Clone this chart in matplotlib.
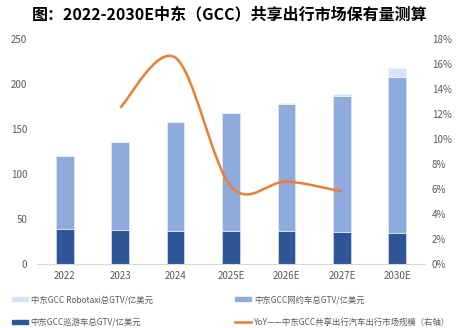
import numpy as np
import matplotlib.pyplot as plt
from matplotlib.path import Path
from matplotlib.patches import PathPatch, Patch
from matplotlib.lines import Line2D

plt.rcParams['font.family'] = ['Noto Sans CJK SC', 'DejaVu Sans']

# ---------------- data ----------------
years = ['2022', '2023', '2024', '2025E', '2026E', '2027E', '2030E']
cruise_gtv = [39, 37.5, 37, 36.7, 36.3, 35.2, 34.1]          # 巡游车
ridehail_gtv = [81.5, 98, 121, 130.8, 142, 151.8, 173.3]     # 网约车
robotaxi_gtv = [0, 0, 0, 0, 0.5, 1.8, 10]                    # Robotaxi
yoy_years = ['2023', '2024', '2025E', '2026E', '2027E']
yoy_pct = [12.5, 16.5, 6.2, 6.6, 5.8]

c_dark, c_mid, c_light, c_orange = '#2f5597', '#8faadc', '#dae3f3', '#ed7d31'
tick_c = '#595959'

fig = plt.figure(figsize=(4.59, 3.28), dpi=100)
ax = fig.add_axes([0.0806, 0.195, 0.8454, 0.686])

x = np.arange(len(years))
w = 0.32
bottom2 = np.array(cruise_gtv)
bottom3 = bottom2 + np.array(ridehail_gtv)
ax.bar(x, cruise_gtv, w, color=c_dark, edgecolor='#c9d6ee', linewidth=0.6)
ax.bar(x, ridehail_gtv, w, bottom=bottom2, color=c_mid, edgecolor='#dce5f5', linewidth=0.6)
ax.bar(x, robotaxi_gtv, w, bottom=bottom3, color=c_light, edgecolor='#eef2fa', linewidth=0.6)

ax.set_xlim(-0.5, len(years) - 0.5)
ax.set_ylim(0, 250)
ax.set_yticks(range(0, 251, 50))
ax.set_xticks(x)
ax.set_xticklabels(years)
for s in ['top', 'right', 'left']:
    ax.spines[s].set_visible(False)
ax.spines['bottom'].set_color('#d9d9d9')
ax.tick_params(length=0, labelsize=7, colors=tick_c)
ax.tick_params(axis='y', pad=7)
ax.tick_params(axis='x', pad=5)

# YoY on right axis, smoothed like Excel (bezier through the points)
ax2 = ax.twinx()
ax2.set_ylim(0, 18)
ax2.set_yticks(range(0, 19, 2))
ax2.set_yticklabels([f'{v}%' for v in range(0, 19, 2)])
for s in ax2.spines.values():
    s.set_visible(False)
ax2.tick_params(length=0, labelsize=7, colors=tick_c, pad=5)

pts = np.array([[years.index(y), v] for y, v in zip(yoy_years, yoy_pct)], dtype=float)
n = len(pts)
verts = [pts[0]]
codes = [Path.MOVETO]
for i in range(n - 1):
    p0 = pts[max(i - 1, 0)]; p1 = pts[i]; p2 = pts[i + 1]; p3 = pts[min(i + 2, n - 1)]
    verts += [p1 + (p2 - p0) / 6, p2 - (p3 - p1) / 6, p2]
    codes += [Path.CURVE4] * 3
ax2.add_patch(PathPatch(Path(verts, codes), fill=False, edgecolor=c_orange, linewidth=1.8))

fig.text(0.5, 0.955, '图：2022-2030E中东（GCC）共享出行市场保有量测算',
         ha='center', va='center', fontsize=11.5, fontweight='bold')

handles = [Patch(color=c_light), Patch(color=c_dark), Patch(color=c_mid),
           Line2D([], [], color=c_orange, linewidth=1.8)]
labels = ['中东GCC Robotaxi总GTV/亿美元', '中东GCC巡游车总GTV/亿美元',
          '中东GCC网约车总GTV/亿美元', 'YoY——中东GCC共享出行汽车出行市场规模（右轴）']
leg = fig.legend(handles, labels, ncol=2, loc='upper left', bbox_to_anchor=(0.026, 0.1),
                 frameon=False, fontsize=6, handlelength=1.9, handleheight=0.45,
                 handletextpad=0.35, columnspacing=9.9, labelspacing=1.65,
                 borderaxespad=0, borderpad=0)
for t in leg.get_texts():
    t.set_color(tick_c)

fig.savefig('out.png', dpi=100)
